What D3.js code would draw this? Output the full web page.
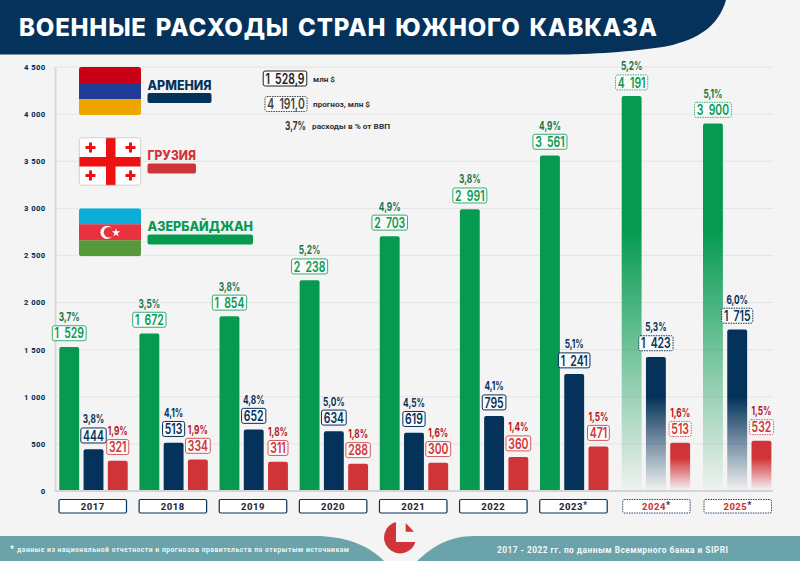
<!DOCTYPE html>
<html><head><meta charset="utf-8">
<script src="https://cdn.jsdelivr.net/npm/d3@7/dist/d3.min.js"></script>
<style>html,body{margin:0;padding:0;background:#f4f4f4}svg{display:block}</style>
</head><body><svg id="c" width="800" height="561"></svg>
<script>
const years=["2017","2018","2019","2020","2021","2022","2023*","2024*","2025*"];
const forecastYears=["2024*","2025*"];
const azerbaijan=[1529,1672,1854,2238,2703,2991,3561,4191,3900];
const armenia=[444,513,652,634,619,795,1241,1423,1715];
const georgia=[321,334,311,288,300,360,471,513,532];
const azerbaijanPct=["3,7%","3,5%","3,8%","5,2%","4,9%","3,8%","4,9%","5,2%","5,1%"];
const armeniaPct=["3,8%","4,1%","4,8%","5,0%","4,5%","4,1%","5,1%","5,3%","6,0%"];
const georgiaPct=["1,9%","1,9%","1,8%","1,8%","1,6%","1,4%","1,5%","1,6%","1,5%"];
const yTicks=[0,500,1000,1500,2000,2500,3000,3500,4000,4500];
const title="ВОЕННЫЕ РАСХОДЫ СТРАН ЮЖНОГО КАВКАЗА";
const footLeft="данные из национальной отчетности и прогнозов правительств по открытым источникам";
const footRight="2017 - 2022 гг. по данным Всемирного банка и SIPRI";

const GREEN="#069a51",NAVY="#04325a",RED="#d13438",DARKGREEN="#15734a",DARKRED="#b5141e";
const NUM="Inter,Roboto,sans-serif";
const svg=d3.select("#c");
svg.append("rect").attr("width",800).attr("height",561).attr("fill","#f4f4f4");
const fmt=v=>d3.format(",")(v).replace(/,/g,"\u00a0");
const fmtBox=v=>d3.format(",")(v).replace(/,/g,"\u2002");

const y=d3.scaleLinear().domain([0,4500]).range([491,67]);
// the forecast groups sit slightly further apart than the actual-data groups
const xi=d3.scaleLinear().domain([0,6,7,8]).range([59.3,540,621.7,703]);
const groupX=d=>xi(years.indexOf(d));
const series=d3.scaleBand().domain(["az","am","ge"]).range([0,68.4]).paddingInner(0.18).paddingOuter(0);

function squeeze(t,k){
  const n=t.node().getComputedTextLength()*k,x=+t.attr("x"),yy=+t.attr("y");
  t.attr("x",0).attr("y",0).attr("transform",`translate(${x},${yy}) scale(${k},1)`);
  return n;
}

const defs=svg.append("defs");
[["az",GREEN,2770],["am",NAVY,1000],["ge",RED,350]].forEach(([id,c,from])=>{
  const g=defs.append("linearGradient").attr("id","fade-"+id).attr("gradientUnits","userSpaceOnUse")
    .attr("x1",0).attr("x2",0).attr("y1",y(from)).attr("y2",y(20));
  g.append("stop").attr("offset",0).attr("stop-color",c);
  g.append("stop").attr("offset",1).attr("stop-color",c).attr("stop-opacity",0.03);
});

// header
svg.append("path").attr("fill",NAVY).attr("d","M0,0H726C718,27 698,39 668,46C640,51 600,54 560,54.5H0Z");
svg.append("text").attr("x",19).attr("y",35.5).attr("fill","#fff")
  .attr("font-family","Inter,'Open Sans',sans-serif").attr("font-weight",800).attr("font-size",24)
  .attr("textLength",638).attr("lengthAdjust","spacing").attr("word-spacing",3).text(title);

// footer
svg.append("path").attr("fill","#6aa3a9").attr("d","M0,536H315C345,536 368,545 384,561H0Z");
svg.append("path").attr("fill","#6aa3a9").attr("d","M417,561C432,547 448,536 475,536H800V561Z");
svg.append("text").attr("x",10).attr("y",552).attr("fill","#fff").attr("font-family","Roboto,sans-serif").attr("font-weight",700)
  .attr("font-size",9).text("*");
svg.append("text").attr("x",17).attr("y",552).attr("fill","#eef5f5").attr("font-family","Roboto,sans-serif").attr("font-weight",700)
  .attr("font-size",6.8).attr("textLength",332).text(footLeft);
svg.append("text").attr("x",497).attr("y",552.5).attr("fill","#f4f8f8").attr("font-family","Roboto,sans-serif").attr("font-weight",700)
  .attr("font-size",8.4).attr("textLength",231).text(footRight);

// logo
svg.append("path").attr("fill",RED).attr("d","M396,522A16,16 0 1 0 415.4,542H396Z");
svg.append("path").attr("fill",RED).attr("d","M405.7,523L414,531.7H405.7Z");

// grid + axes
svg.append("g").selectAll("line").data(yTicks.filter(t=>t>0)).join("line").attr("x1",56).attr("x2",773)
  .attr("y1",d=>y(d)).attr("y2",d=>y(d)).attr("stroke","#e4e4e4").attr("stroke-width",1);
svg.append("line").attr("x1",55.5).attr("x2",55.5).attr("y1",67).attr("y2",491).attr("stroke","#d9d9d9").attr("stroke-width",2);
svg.append("line").attr("x1",55).attr("x2",773).attr("y1",491).attr("y2",491).attr("stroke","#d4d4d4").attr("stroke-width",2);
const yAxis=d3.axisLeft(y).tickValues(yTicks).tickFormat(fmt).tickSize(0).tickPadding(0);
const yg=svg.append("g").attr("transform","translate(45.5,0)").call(yAxis);
yg.select(".domain").remove();
yg.selectAll("text").attr("font-family","Roboto,sans-serif").attr("font-weight",800).attr("font-size",7.6).attr("letter-spacing",.4).attr("fill",NAVY);

// legend
function flag(ty){return svg.append("g").attr("transform",`translate(79,${ty})`);}
const FW=62,FH=48;
[0,1,2].forEach(i=>defs.append("clipPath").attr("id","fl"+i).append("rect").attr("width",FW).attr("height",FH).attr("rx",2.5));
let f=flag(67).attr("clip-path","url(#fl0)");
["#c90016","#1f3c97","#eda600"].forEach((c,i)=>f.append("rect").attr("y",i*16).attr("width",FW).attr("height",16.2).attr("fill",c));
f=flag(137.5);
const fi=f.append("g").attr("clip-path","url(#fl1)");
fi.append("rect").attr("width",FW).attr("height",FH).attr("fill","#fff");
fi.append("rect").attr("x",27).attr("width",9.5).attr("height",FH).attr("fill","#ee1111");
fi.append("rect").attr("y",19.5).attr("width",FW).attr("height",9.5).attr("fill","#ee1111");
[[11.5,10],[51.5,10],[11.5,38],[51.5,38]].forEach(([a,b])=>{
  fi.append("rect").attr("x",a-5).attr("y",b-1.5).attr("width",10).attr("height",3).attr("fill","#ee1111");
  fi.append("rect").attr("x",a-1.5).attr("y",b-5).attr("width",3).attr("height",10).attr("fill","#ee1111");
});
f.append("rect").attr("x",.3).attr("y",.3).attr("width",FW-.6).attr("height",FH-.6).attr("rx",2.5).attr("fill","none").attr("stroke","#bbb").attr("stroke-width",.7);
f=flag(208.3).attr("clip-path","url(#fl2)");
["#0aaed8","#e8323f","#55993a"].forEach((c,i)=>f.append("rect").attr("y",i*16).attr("width",FW).attr("height",16.2).attr("fill",c));
f.append("circle").attr("cx",28).attr("cy",24).attr("r",6.6).attr("fill","#fff");
f.append("circle").attr("cx",30).attr("cy",24).attr("r",5.3).attr("fill","#e8323f");
f.append("path").attr("fill","#fff").attr("d",d3.symbol(d3.symbolStar,22)()).attr("transform","translate(37,24.4)");

[["АРМЕНИЯ",NAVY,89.5,64],["ГРУЗИЯ",RED,160,48.5],["АЗЕРБАЙДЖАН",GREEN,231,105.5]].forEach(([t,c,ty,w])=>{
  svg.append("text").attr("x",147.5).attr("y",ty).attr("fill",c).attr("font-family","Inter,Roboto,sans-serif").attr("font-weight",800).attr("font-size",13)
    .attr("textLength",w).attr("lengthAdjust","spacingAndGlyphs").text(t);
  svg.append("rect").attr("x",147.5).attr("y",ty+3.5).attr("width",w).attr("height",10).attr("rx",2).attr("fill",c);
});
function vbox(g,cx,cy,h,c,txt,dash,fs,bw,k){
  const r=g.append("rect");
  const t=g.append("text").attr("x",cx).attr("y",cy+fs*.36).attr("text-anchor","middle").attr("fill",c)
   .attr("font-family",NUM).attr("font-weight",600).attr("font-size",fs).text(txt);
  const w=squeeze(t,k)+4.5;
  r.attr("x",cx-w/2).attr("y",cy-h/2).attr("width",w).attr("height",h).attr("rx",2).attr("fill","#fafafa")
   .attr("stroke",c).attr("stroke-width",bw).attr("stroke-dasharray",dash?"1.5,1":null);
}
vbox(svg,285,78.5,15,"#222","1\u2002528,9",false,14.5,1,.72);
vbox(svg,286,104,15,"#444","4\u2002191,0",true,14.5,1,.72);
squeeze(svg.append("text").attr("x",295.5).attr("y",130).attr("text-anchor","middle").attr("fill","#333").attr("font-family",NUM).attr("font-weight",700).attr("font-size",11.5).text("3,7%"),.72);
[["млн $",313,81.5,22],["прогноз, млн $",313,107,57],["расходы в % от ВВП",312,129,78]].forEach(([t,a,b,w])=>
  svg.append("text").attr("x",a).attr("y",b).attr("fill","#333").attr("font-family","Roboto,sans-serif").attr("font-weight",700).attr("font-size",7.6)
   .attr("textLength",w).attr("lengthAdjust","spacingAndGlyphs").text(t));

// bars
const tables=[["az",azerbaijan,azerbaijanPct,GREEN,DARKGREEN],["am",armenia,armeniaPct,NAVY,NAVY],["ge",georgia,georgiaPct,RED,DARKRED]];
tables.forEach(([id,vals,pcts,c,pc])=>{
  const rows=years.map((yr,i)=>({yr,v:vals[i],p:pcts[i],fc:forecastYears.includes(yr)}));
  svg.append("g").selectAll("path").data(rows).join("path")
   .attr("fill",d=>d.fc?`url(#fade-${id})`:c)
   .attr("d",d=>{const a=groupX(d.yr)+series(id),w=series.bandwidth(),t=y(d.v),b=y(0)-1,r=2;
     return `M${a},${b}V${t+r}Q${a},${t} ${a+r},${t}H${a+w-r}Q${a+w},${t} ${a+w},${t+r}V${b}Z`;});
  rows.forEach(d=>{
    const cx=groupX(d.yr)+series(id)+series.bandwidth()/2, t=y(d.v), cy=t-13.7;
    const bg=svg.append("g");
    vbox(bg,cx,cy,15,c,fmtBox(d.v),d.fc,14.5,id=="am"?1:.8,.72);
    squeeze(bg.append("text").attr("x",cx).attr("y",cy-12).attr("text-anchor","middle").attr("fill",pc)
      .attr("font-family",NUM).attr("font-weight",700).attr("font-size",11.5).text(d.p),.72);
  });
});

// year boxes
const yb=svg.append("g");
years.forEach(yr=>{
  const fc=forecastYears.includes(yr),a=groupX(yr)-.3+(fc?1.3:0);
  yb.append("rect").attr("x",a).attr("y",499.5).attr("width",67.5).attr("height",13.5).attr("rx",1.5).attr("fill","#fff")
    .attr("stroke",fc?"#27496d":NAVY).attr("stroke-width",fc?1:1.2).attr("stroke-dasharray",fc?"1.5,1":null);
  const tt=yb.append("text").attr("x",a+33.7).attr("y",510).attr("text-anchor","middle").attr("fill",fc?RED:"#1d2c3a")
    .attr("font-family","Roboto,sans-serif").attr("font-weight",800).attr("font-size",9.5).attr("letter-spacing",.5).text(yr.replace("*",""));
  if(yr.includes("*")) tt.append("tspan").attr("dy",-2).attr("font-size",9).attr("fill","#1d2c3a").text("*");
});
</script></body></html>
